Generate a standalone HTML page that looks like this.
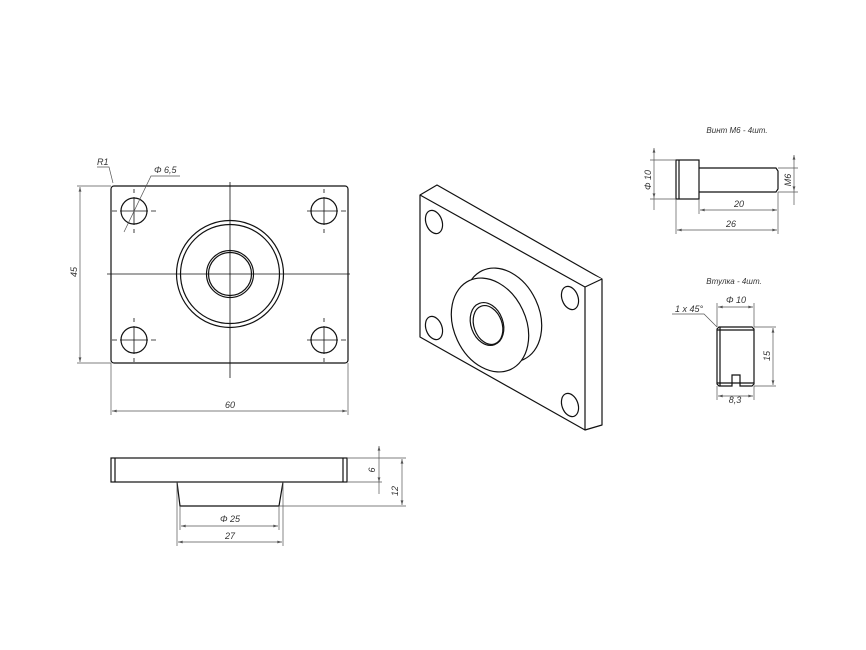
<!DOCTYPE html>
<html><head><meta charset="utf-8"><style>
html,body{margin:0;padding:0;background:#fff}
svg{display:block}
text{font-family:"Liberation Sans",sans-serif;font-style:italic;font-size:9px;fill:#333}
</style></head><body>
<svg width="866" height="650" viewBox="0 0 866 650" xmlns="http://www.w3.org/2000/svg">
<defs>
<marker id="a" viewBox="0 0 10 6" refX="10" refY="3" markerWidth="8" markerHeight="4" orient="auto-start-reverse"><path d="M0,0L10,3L0,6z" fill="#555"/></marker>
</defs>
<g fill="none" stroke="#111" stroke-width="1.2">
<rect x="111" y="186" width="237" height="177" rx="3"/>
<circle cx="230" cy="274" r="53.5"/>
<circle cx="230" cy="274" r="49.5"/>
<circle cx="230" cy="274" r="23.5"/>
<circle cx="230" cy="274" r="21.5"/>
<circle cx="134" cy="211" r="13"/>
<circle cx="324" cy="211" r="13"/>
<circle cx="134" cy="340" r="13"/>
<circle cx="324" cy="340" r="13"/>
</g>
<g stroke="#111" stroke-width="0.8" fill="none">
<path d="M107 274H350M230 182V378"/>
<path d="M120 211h28M134 197v28M310 211h28M324 197v28M120 340h28M134 326v28M310 340h28M324 326v28"/>
<path d="M112 211h5M151 211h5M312 211h-5M341 211h5M112 340h5M151 340h5M307 340h5M341 340h5M134 189v4M134 229v4M324 189v4M324 229v4M134 318v4M134 358v4M324 318v4M324 358v4"/>
</g>
<g stroke="#555" stroke-width="0.7" fill="none">
<path d="M111 186H77M111 363H77"/>
<path d="M80 187V362" marker-start="url(#a)" marker-end="url(#a)"/>
<path d="M111 363V415M348 363V415"/>
<path d="M112 411H347" marker-start="url(#a)" marker-end="url(#a)"/>
<path d="M97 167H109L113 183"/>
<path d="M180 176H151L124 232"/>
</g>
<text x="97" y="165">R1</text>
<text x="154" y="173">Φ 6,5</text>
<text x="230" y="408" text-anchor="middle">60</text>
<text transform="translate(77,272) rotate(-90)" text-anchor="middle">45</text>
<g fill="#fff" stroke="#111" stroke-width="1.2" stroke-linejoin="round">
<path d="M420 195L437 185L602 279L602 425L585 430L420 337Z"/>
<path d="M420 195L585 287L602 279M585 287V430"/>
<ellipse cx="434" cy="222" rx="8" ry="12" transform="rotate(-20 434 222)"/>
<ellipse cx="434" cy="328" rx="8" ry="12" transform="rotate(-20 434 328)"/>
<ellipse cx="570" cy="298" rx="8" ry="12" transform="rotate(-20 570 298)"/>
<ellipse cx="570" cy="405" rx="8" ry="12" transform="rotate(-20 570 405)"/>
<ellipse cx="503" cy="315" rx="36" ry="49" transform="rotate(-25 503 315)"/>
<ellipse cx="490" cy="325" rx="36" ry="49" transform="rotate(-25 490 325)"/>
<ellipse cx="487" cy="324" rx="16" ry="22" transform="rotate(-20 487 324)"/>
<ellipse cx="488" cy="325" rx="14" ry="20" transform="rotate(-20 488 325)"/>
</g>
<g fill="none" stroke="#111" stroke-width="1.2">
<rect x="111" y="458" width="236" height="24"/>
<path d="M115 458V482M343 458V482"/>
<path d="M177 482L180 506H279L283 482"/>
</g>
<g stroke="#555" stroke-width="0.7" fill="none">
<path d="M347 458H406M347 482H382M279 506H406"/>
<path d="M379 446V494M379 458V482" marker-start="url(#a)" marker-end="url(#a)"/>
<path d="M402 459V505" marker-start="url(#a)" marker-end="url(#a)"/>
<path d="M180 506V530M279 506V530M177 482V546M283 482V546"/>
<path d="M181 526H278" marker-start="url(#a)" marker-end="url(#a)"/>
<path d="M178 542H282" marker-start="url(#a)" marker-end="url(#a)"/>
</g>
<text x="230" y="522" text-anchor="middle">Φ 25</text>
<text x="230" y="539" text-anchor="middle">27</text>
<text transform="translate(375,470) rotate(-90)" text-anchor="middle">6</text>
<text transform="translate(398,491) rotate(-90)" text-anchor="middle">12</text>
<text x="737" y="133" text-anchor="middle" style="font-size:8px">Винт М6 - 4шт.</text>
<g fill="none" stroke="#111" stroke-width="1.2">
<rect x="676" y="160" width="23" height="39"/>
<path d="M679 160V199"/>
<path d="M699 168H776L778 171V189L776 192H699"/>
</g>
<g stroke="#555" stroke-width="0.7" fill="none">
<path d="M676 160H650M676 199H650M778 168H798M778 192H798"/>
<path d="M654 148V210M654 161V198" marker-start="url(#a)" marker-end="url(#a)"/>
<path d="M794 155V205M794 169V191" marker-start="url(#a)" marker-end="url(#a)"/>
<path d="M699 199V214M778 192V234M676 199V234"/>
<path d="M700 210H777" marker-start="url(#a)" marker-end="url(#a)"/>
<path d="M677 230H777" marker-start="url(#a)" marker-end="url(#a)"/>
</g>
<text transform="translate(651,180) rotate(-90)" text-anchor="middle">Φ 10</text>
<text transform="translate(791,180) rotate(-90)" text-anchor="middle">M6</text>
<text x="739" y="207" text-anchor="middle">20</text>
<text x="731" y="227" text-anchor="middle">26</text>
<text x="734" y="284" text-anchor="middle" style="font-size:8px">Втулка - 4шт.</text>
<g fill="none" stroke="#111" stroke-width="1.2">
<path d="M719 327H752L754 329V384L752 386H740V375H732V386H719L717 384V329Z"/>
<path d="M720 327V386M717 330H754M717 383H754"/>
</g>
<g stroke="#555" stroke-width="0.7" fill="none">
<path d="M717 327V303M754 327V303M754 327H776M754 386H776M717 386V400M754 386V400"/>
<path d="M718 307H753" marker-start="url(#a)" marker-end="url(#a)"/>
<path d="M773 328V385" marker-start="url(#a)" marker-end="url(#a)"/>
<path d="M718 396H753" marker-start="url(#a)" marker-end="url(#a)"/>
<path d="M672 314H704L717 327"/>
</g>
<text x="736" y="303" text-anchor="middle">Φ 10</text>
<text x="675" y="312">1 x 45°</text>
<text transform="translate(770,356) rotate(-90)" text-anchor="middle">15</text>
<text x="735" y="403" text-anchor="middle">8,3</text>
</svg>
</body></html>
